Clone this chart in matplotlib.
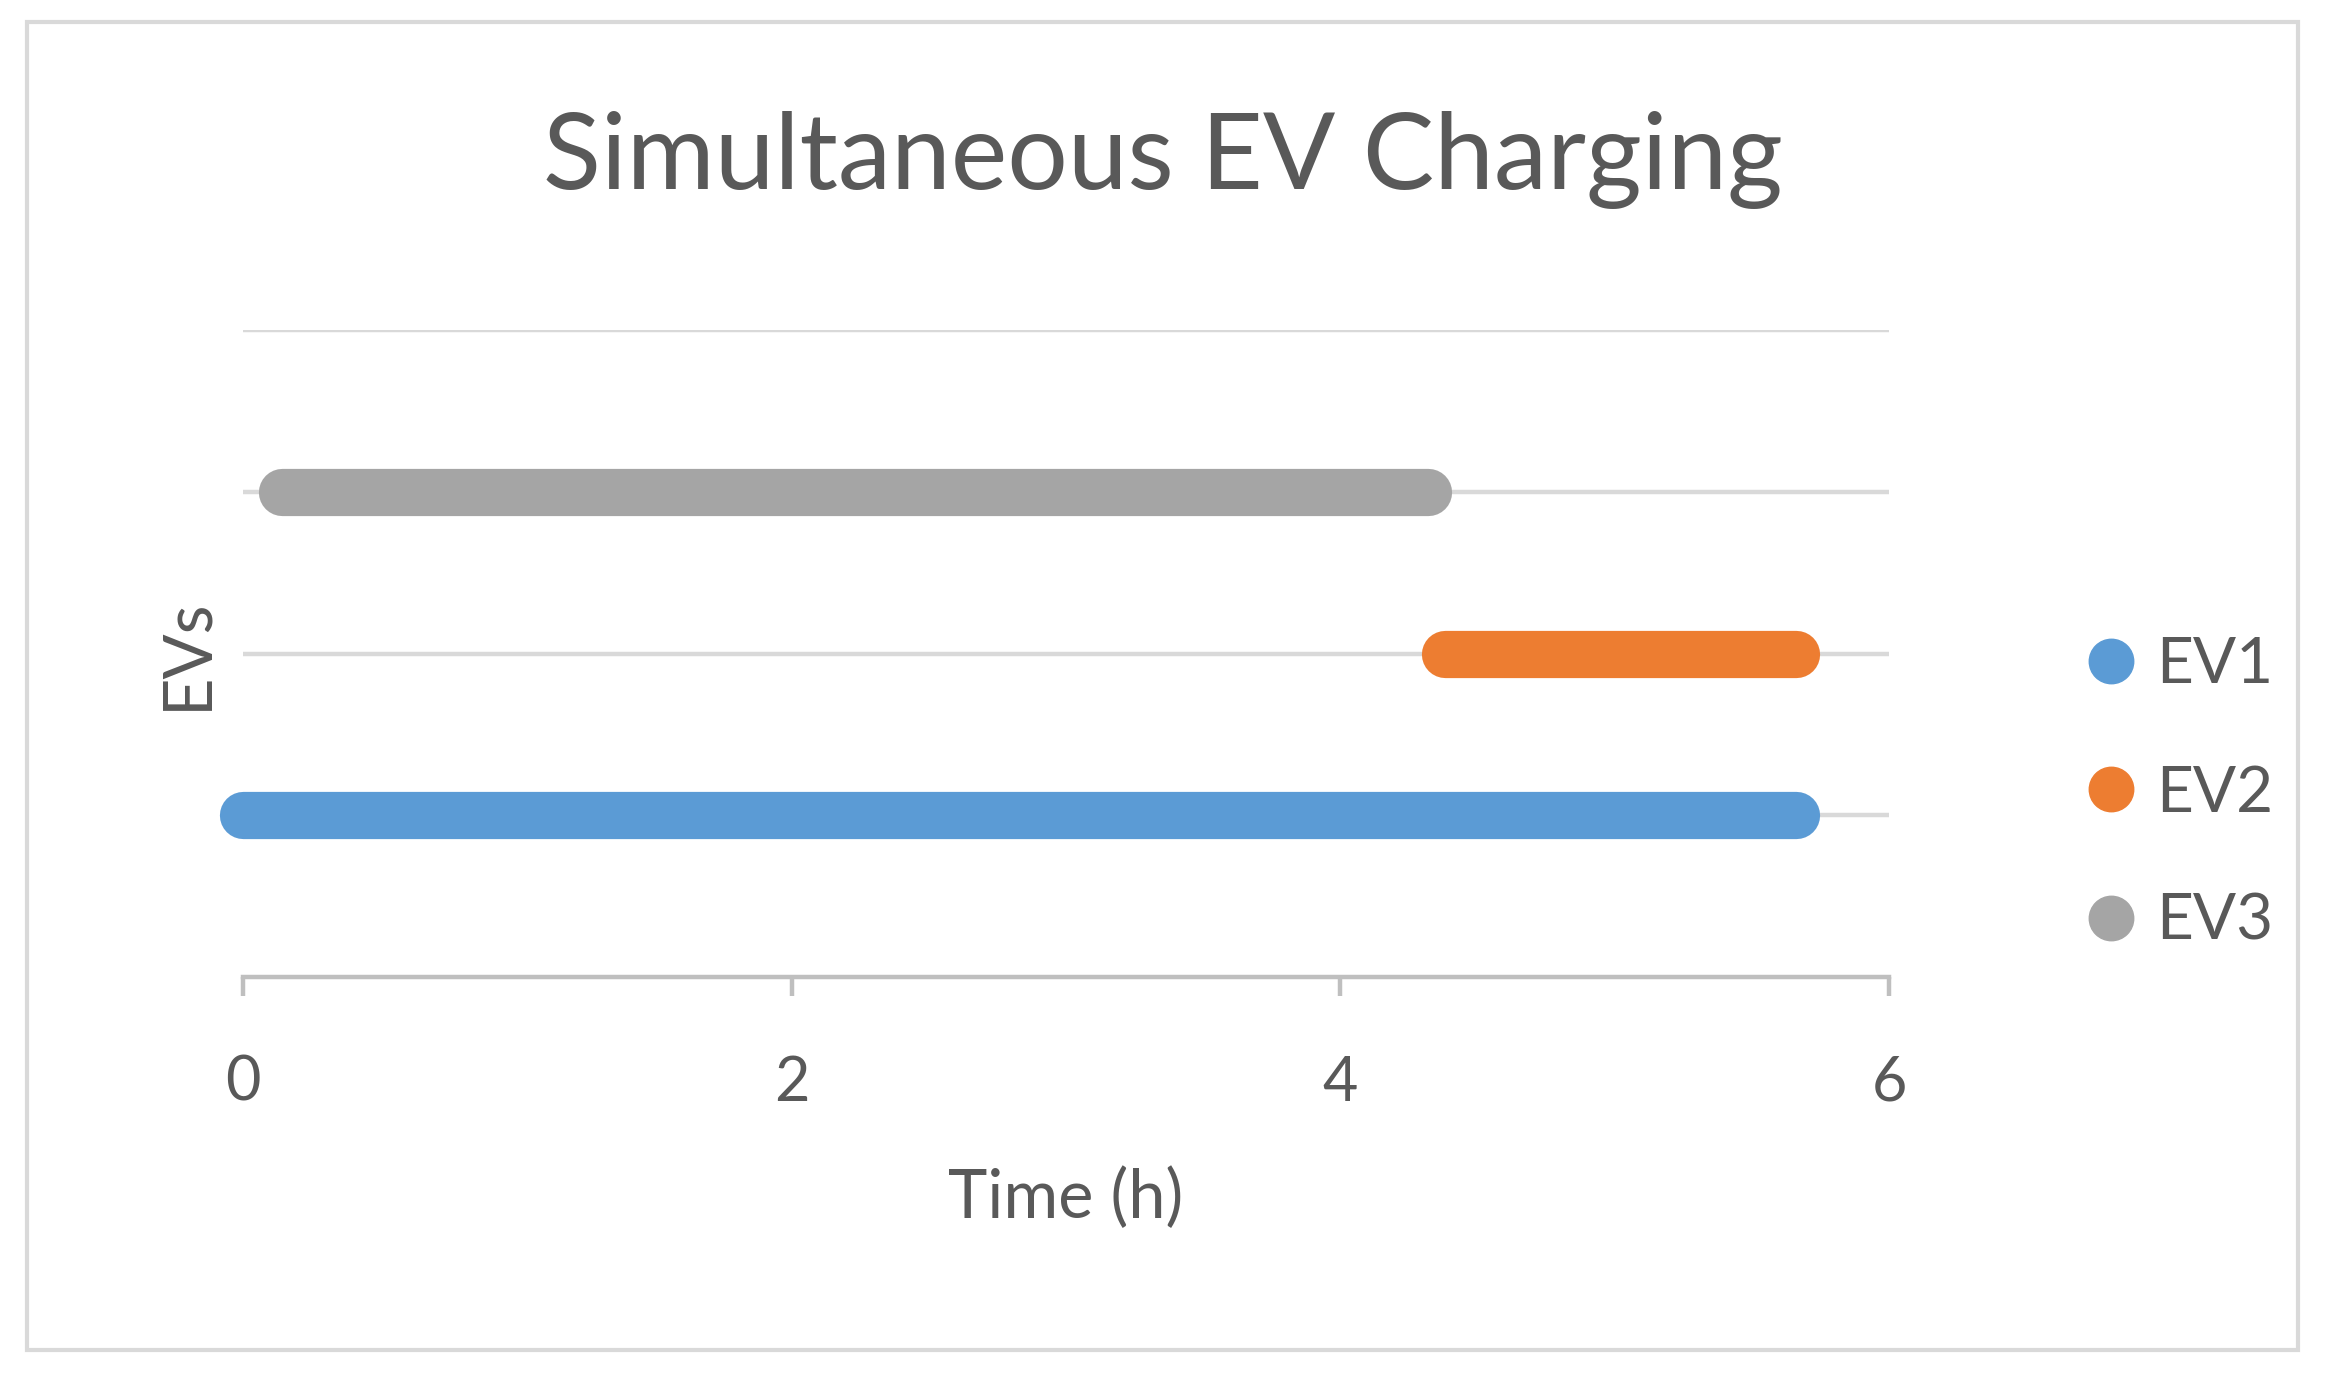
import matplotlib
matplotlib.use("Agg")
import matplotlib.pyplot as plt
from matplotlib.lines import Line2D
from matplotlib.patches import Rectangle

series = ["EV1", "EV2", "EV3"]
levels = [1, 2, 3]
starts = [0.0, 4.38, 0.14]
ends = [5.66, 5.66, 4.32]
colors = ["#5B9BD5", "#ED7D31", "#A5A5A5"]
xticks = [0, 2, 4, 6]

plt.rcParams['font.family'] = ['Lato', 'DejaVu Sans']
txt = "#595959"
fig = plt.figure(figsize=(23.25, 13.74), dpi=100)
fig.patches.append(Rectangle((18/1568, 1-912/928), (1550-18)/1568, (912-15)/928,
                             transform=fig.transFigure, fill=False, edgecolor="#D9D9D9", lw=3))
ax = fig.add_axes([164/1568, 1-660/928, (1274-164)/1568, (660-223)/928])
ax.set_xlim(0, 6)
ax.set_ylim(0, 4)
for y in [1, 2, 3, 4]:
    ax.axhline(y, color="#D9D9D9", lw=3.2, zorder=0)
for s, y, a, b, c in zip(series, levels, starts, ends, colors):
    ax.plot([a, b], [y, y], color=c, lw=34, solid_capstyle="round", zorder=2, clip_on=False)
for sp in ["top", "right", "left"]:
    ax.spines[sp].set_visible(False)
ax.spines["bottom"].set_color("#BFBFBF")
ax.spines["bottom"].set_linewidth(3.2)
ax.set_yticks([])
ax.set_xticks(xticks)
ax.tick_params(axis="x", colors="#BFBFBF", length=14, width=3.2, labelcolor=txt, labelsize=44, pad=42)
ax.set_xlabel("Time (h)", fontsize=48, color=txt, labelpad=40)
ax.set_ylabel("EVs", fontsize=48, color=txt, labelpad=18)
fig.text(0.5, 1-108/928, "Simultaneous EV Charging", ha="center", va="center", fontsize=77, color=txt)
handles = [Line2D([], [], ls="none", marker="o", ms=32, color=c) for c in colors]
fig.legend(handles, series, loc="center left", bbox_to_anchor=(1355/1568, 1-536/928),
           frameon=False, fontsize=46, labelcolor=txt, handletextpad=0.0, labelspacing=1.1,
           handlelength=1.4)
fig.savefig("out.png", dpi=100)
